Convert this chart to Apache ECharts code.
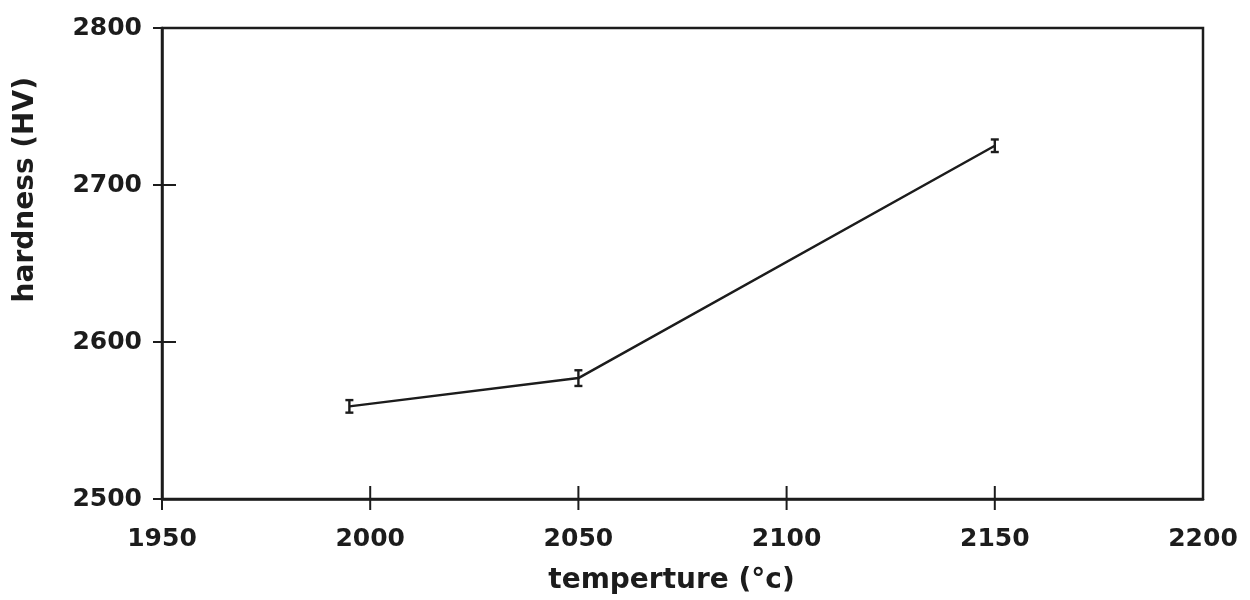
<!DOCTYPE html>
<html>
<head>
<meta charset="utf-8">
<script src="https://cdn.jsdelivr.net/npm/echarts@6/dist/echarts.min.js"></script>
<style>
  html, body { margin: 0; padding: 0; background: #ffffff; }
  #chart { width: 1250px; height: 600px; }
</style>
</head>
<body>
<div id="chart"></div>
<script>
// Vickers hardness versus sintering temperature
const temperatures = [1995, 2050, 2150];
const hardness = [2559, 2577, 2725];
const hardnessErr = [4, 5, 4];

const xTicks = { min: 1950, max: 2200, interval: 50 };
const yTicks = { min: 2500, max: 2800, interval: 100 };
// tick marks that cross the axis lines (the far corner carries none)
const xTickValues = [1950, 2000, 2050, 2100, 2150];
const yTickValues = [2500, 2600, 2700, 2800];

const xTitle = 'temperture (°c)';
const yTitle = 'hardness (HV)';

const INK = '#1c1c1c';
const FONT = '"DejaVu Sans", "Liberation Sans", sans-serif';
const AXIS_W = 2.5;

const points = temperatures.map((t, i) => [t, hardness[i]]);
const errRows = temperatures.map((t, i) => [t, hardness[i] - hardnessErr[i], hardness[i] + hardnessErr[i]]);

const chart = echarts.init(document.getElementById('chart'), null, { renderer: 'canvas' });

const plain = v => String(v);

chart.setOption({
  animation: false,
  backgroundColor: '#ffffff',
  grid: { left: 162, right: 47, top: 28, bottom: 101, show: true,
    borderColor: INK, borderWidth: AXIS_W, backgroundColor: 'transparent' },
  xAxis: {
    type: 'value', min: xTicks.min, max: xTicks.max, interval: xTicks.interval,
    position: 'bottom', splitLine: { show: false },
    axisLine: { show: true, lineStyle: { color: INK, width: AXIS_W } },
    axisTick: { show: false },
    axisLabel: { show: true, margin: 28, color: INK, fontFamily: FONT, fontWeight: 'bold',
      fontSize: 25, formatter: plain },
    name: xTitle, nameLocation: 'middle', nameGap: 68,
    nameTextStyle: { color: INK, fontFamily: FONT, fontWeight: 'bold', fontSize: 28,
      padding: [0, 22, 0, 0] }
  },
  yAxis: {
    type: 'value', min: yTicks.min, max: yTicks.max, interval: yTicks.interval,
    position: 'left', splitLine: { show: false },
    axisLine: { show: true, lineStyle: { color: INK, width: AXIS_W } },
    axisTick: { show: false },
    axisLabel: { show: true, margin: 20, color: INK, fontFamily: FONT, fontWeight: 'bold',
      fontSize: 25, formatter: plain }
  },
  graphic: [{
    type: 'text',
    left: 12, top: 77,
    rotation: Math.PI / 2,
    style: { text: yTitle, fill: INK, font: 'bold 28px ' + FONT }
  }],
  series: [
    {
      // crossing ticks on the bottom axis
      type: 'custom',
      data: xTickValues,
      clip: false,
      silent: true,
      renderItem: function (params, api) {
        const v = api.value(0);
        const p = api.coord([v, yTicks.min]);
        const up = v === xTicks.min ? 0 : 13;
        return { type: 'line', shape: { x1: p[0], y1: p[1] - up, x2: p[0], y2: p[1] + 11 },
          style: { stroke: INK, lineWidth: 2 } };
      },
      z: 5
    },
    {
      // crossing ticks on the left axis
      type: 'custom',
      data: yTickValues.map(v => [xTicks.min, v]),
      clip: false,
      silent: true,
      renderItem: function (params, api) {
        const p = api.coord([api.value(0), api.value(1)]);
        const inner = api.value(1) === yTicks.min || api.value(1) === yTicks.max ? 0 : 14;
        return { type: 'line', shape: { x1: p[0] - 9, y1: p[1], x2: p[0] + inner, y2: p[1] },
          style: { stroke: INK, lineWidth: 2 } };
      },
      z: 5
    },
    {
      type: 'line',
      data: points,
      showSymbol: false,
      lineStyle: { color: INK, width: 2.5 },
      z: 3
    },
    {
      type: 'custom',
      data: errRows,
      encode: { x: 0, y: [1, 2] },
      renderItem: function (params, api) {
        const x = api.value(0);
        const lo = api.coord([x, api.value(1)]);
        const hi = api.coord([x, api.value(2)]);
        const cap = 4;
        const style = { stroke: INK, lineWidth: 2.4 };
        return {
          type: 'group',
          children: [
            { type: 'line', shape: { x1: lo[0], y1: lo[1], x2: hi[0], y2: hi[1] }, style: style },
            { type: 'line', shape: { x1: lo[0] - cap, y1: lo[1], x2: lo[0] + cap, y2: lo[1] }, style: style },
            { type: 'line', shape: { x1: hi[0] - cap, y1: hi[1], x2: hi[0] + cap, y2: hi[1] }, style: style }
          ]
        };
      },
      z: 4
    }
  ]
});
</script>
</body>
</html>
